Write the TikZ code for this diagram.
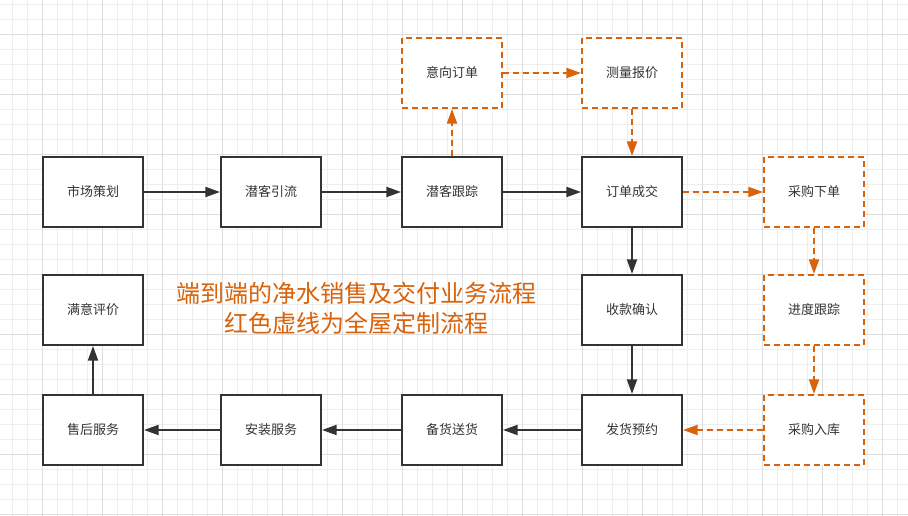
\documentclass[tikz,border=0pt]{standalone}
\usepackage{fontspec}
\setmainfont{Noto Sans CJK SC}
\usetikzlibrary{arrows.meta}

\begin{document}
\begin{tikzpicture}[x=0.75pt, y=-0.75pt,
  step box/.style={draw=linedark, line width=1.5pt, fill=white, minimum width=75pt, minimum height=52.5pt, inner sep=0pt, text=textgray, font=\fontsize{9.75}{12}\selectfont},
  opt box/.style={step box, draw=custom, dash pattern=on 4.5pt off 3pt},
  flow/.style={draw=linedark, line width=1.5pt, -{Triangle[length=11pt, width=7.5pt]}},
  opt flow/.style={flow, draw=custom, fill=custom, dash pattern=on 4.5pt off 3pt}]

% Define colors
\definecolor{linedark}{HTML}{333333}
\definecolor{textgray}{HTML}{333333}
\definecolor{custom}{HTML}{D9620B}
\definecolor{gridminor}{HTML}{EEEEEE}
\definecolor{gridmajor}{HTML}{DDDDDD}

% Canvas and background grid
\useasboundingbox (0,0) rectangle (908,516);
\fill[white] (0,0) rectangle (908,516);
\foreach \gx in {12,27,...,908} \draw[gridminor, line width=0.75pt] (\gx,0) -- (\gx,516);
\foreach \gy in {5,20,...,516} \draw[gridminor, line width=0.75pt] (0,\gy) -- (908,\gy);
\foreach \gx in {42,102,...,908} \draw[gridmajor, line width=0.75pt] (\gx,0) -- (\gx,516);
\foreach \gy in {35,95,...,516} \draw[gridmajor, line width=0.75pt] (0,\gy) -- (908,\gy);

% Main sales flow
\node[step box] (plan)    at (93,192)  {市场策划};
\node[step box] (lead)    at (271,192) {潜客引流};
\node[step box] (track)   at (452,192) {潜客跟踪};
\node[step box] (deal)    at (632,192) {订单成交};
\node[step box] (pay)     at (632,310) {收款确认};
\node[step box] (ship)    at (632,430) {发货预约};
\node[step box] (stock)   at (452,430) {备货送货};
\node[step box] (install) at (271,430) {安装服务};
\node[step box] (after)   at (93,430)  {售后服务};
\node[step box] (review)  at (93,310)  {满意评价};

% Custom-made flow (dashed)
\node[opt box] (intent)   at (452,73)  {意向订单};
\node[opt box] (measure)  at (632,73)  {测量报价};
\node[opt box] (buy)      at (814,192) {采购下单};
\node[opt box] (progress) at (814,310) {进度跟踪};
\node[opt box] (store)    at (814,430) {采购入库};

% Title
\node[text=custom, align=center, font=\fontsize{18}{22.5}\selectfont] (title) at (356,308)
  {端到端的净水销售及交付业务流程\\红色虚线为全屋定制流程};

% Solid connectors
\draw[flow] (plan) -- (lead);
\draw[flow] (lead) -- (track);
\draw[flow] (track) -- (deal);
\draw[flow] (deal) -- (pay);
\draw[flow] (pay) -- (ship);
\draw[flow] (ship) -- (stock);
\draw[flow] (stock) -- (install);
\draw[flow] (install) -- (after);
\draw[flow] (after) -- (review);

% Dashed connectors
\draw[opt flow] (track) -- (intent);
\draw[opt flow] (intent) -- (measure);
\draw[opt flow] (measure) -- (deal);
\draw[opt flow] (deal) -- (buy);
\draw[opt flow] (buy) -- (progress);
\draw[opt flow] (progress) -- (store);
\draw[opt flow] (store) -- (ship);
\end{tikzpicture}
\end{document}
